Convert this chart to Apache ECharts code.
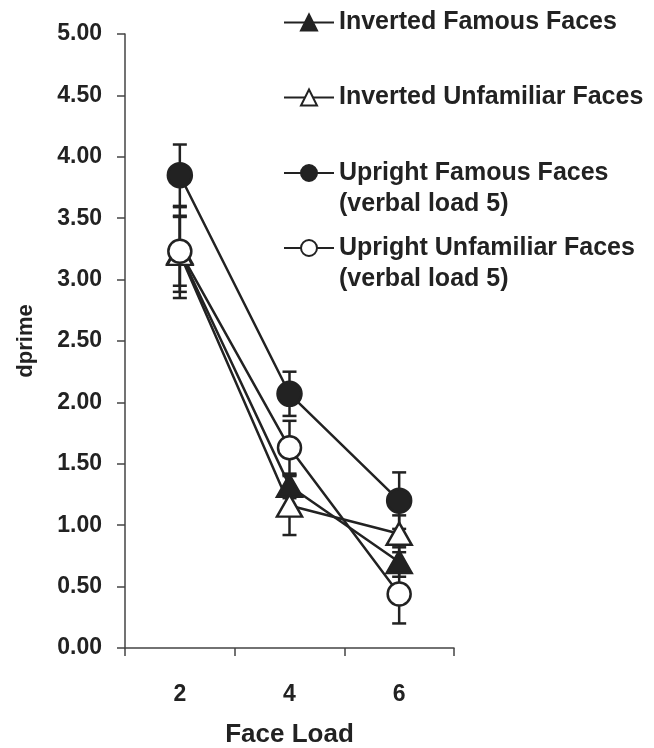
<!DOCTYPE html>
<html>
<head>
<meta charset="utf-8">
<script src="https://cdn.jsdelivr.net/npm/echarts@6/dist/echarts.min.js"></script>
<style>
  html, body { margin: 0; padding: 0; background: #fff; }
  #faceChart { width: 654px; height: 748px; }
</style>
</head>
<body>
<div id="faceChart"></div>
<script>
// face load categories
var loads = ['2', '4', '6']
var yTicks = [0, 0.5, 1, 1.5, 2, 2.5, 3, 3.5, 4, 4.5, 5]

// mean dprime and standard error per face load
var invFamous = [3.22, 1.32, 0.70]
var invFamousErr = [0.37, 0.10, 0.12]
var invUnfamiliar = [3.21, 1.16, 0.93]
var invUnfamiliarErr = [0.31, 0.24, 0.15]
var upFamous = [3.85, 2.07, 1.20]
var upFamousErr = [0.25, 0.18, 0.23]
var upUnfamiliar = [3.23, 1.63, 0.44]
var upUnfamiliarErr = [0.28, 0.22, 0.24]

var names = [
  'Inverted Famous Faces',
  'Inverted Unfamiliar Faces',
  'Upright Famous Faces\n(verbal load 5)',
  'Upright Unfamiliar Faces\n(verbal load 5)'
]

var ink = '#222'
var font = 'Liberation Sans'

function errData (means, errs) {
  return means.map(function (m, i) {
    return [i, m - errs[i], m + errs[i]]
  })
}

function renderErr (params, api) {
  var top = api.coord([api.value(0), api.value(2)])
  var bot = api.coord([api.value(0), api.value(1)])
  var w = 7
  var st = {stroke: ink, lineWidth: 2.5}
  return {
    type: 'group',
    children: [
      {type: 'line', shape: {x1: top[0], y1: top[1], x2: bot[0], y2: bot[1]}, style: st},
      {type: 'line', shape: {x1: top[0] - w, y1: top[1], x2: top[0] + w, y2: top[1]}, style: st},
      {type: 'line', shape: {x1: bot[0] - w, y1: bot[1], x2: bot[0] + w, y2: bot[1]}, style: st}
    ]
  }
}

function errSeries (means, errs) {
  return {
    type: 'custom',
    renderItem: renderErr,
    encode: {x: 0, y: [1, 2]},
    data: errData(means, errs),
    z: 1,
    silent: true
  }
}

function lineSeries (name, data, symbol, size, filled) {
  return {
    name: name,
    type: 'line',
    data: data,
    symbol: symbol,
    symbolSize: size,
    showAllSymbol: true,
    z: 3,
    lineStyle: {color: ink, width: 2.5},
    itemStyle: {
      color: filled ? ink : '#fff',
      borderColor: ink,
      borderWidth: 2.5
    }
  }
}

function legendAt (name, top, twoLines) {
  return {
    data: [name],
    orient: 'vertical',
    left: 283,
    top: top,
    padding: 0,
    itemWidth: 50,
    itemHeight: 20,
    itemGap: 0,
    // blank first line keeps the icon level with the first text line
    formatter: twoLines ? function (n) { return '\n' + n } : '{name}',
    textStyle: {
      fontFamily: font,
      fontWeight: 'bold',
      fontSize: 25,
      color: ink,
      lineHeight: twoLines ? 31 : 24
    }
  }
}

var chart = echarts.init(document.getElementById('faceChart'))
chart.setOption({
  animation: false,
  backgroundColor: '#fff',
  grid: {
    left: 125,
    top: 34,
    right: 200,
    bottom: 100,
    outerBoundsMode: 'none'
  },
  legend: [
    legendAt(names[0], 10, false),
    legendAt(names[1], 85, false),
    legendAt(names[2], 126.5, true),
    legendAt(names[3], 201.5, true)
  ],
  xAxis: {
    type: 'category',
    data: loads,
    boundaryGap: true,
    name: 'Face Load',
    nameLocation: 'middle',
    nameGap: 74,
    nameTextStyle: {fontFamily: font, fontWeight: 'bold', fontSize: 26, color: ink},
    axisLine: {lineStyle: {color: '#444', width: 1.5}},
    axisTick: {show: true, length: 8, lineStyle: {color: '#444', width: 1.5}},
    axisLabel: {
      margin: 35,
      fontFamily: font,
      fontWeight: 'bold',
      fontSize: 23,
      color: ink
    },
    splitLine: {show: false}
  },
  yAxis: {
    type: 'value',
    min: yTicks[0],
    max: yTicks[yTicks.length - 1],
    interval: 0.5,
    name: 'dprime',
    nameLocation: 'middle',
    nameRotate: 90,
    nameGap: 88,
    nameTextStyle: {fontFamily: font, fontWeight: 'bold', fontSize: 22, color: ink},
    axisLine: {show: true, lineStyle: {color: '#444', width: 1.5}},
    axisTick: {show: true, length: 8, lineStyle: {color: '#444', width: 1.5}},
    axisLabel: {
      margin: 23,
      fontFamily: font,
      fontWeight: 'bold',
      fontSize: 23,
      color: ink,
      formatter: function (v) { return v.toFixed(2) }
    },
    splitLine: {show: false}
  },
  series: [
    errSeries(invFamous, invFamousErr),
    errSeries(invUnfamiliar, invUnfamiliarErr),
    errSeries(upFamous, upFamousErr),
    errSeries(upUnfamiliar, upUnfamiliarErr),
    lineSeries(names[0], invFamous, 'triangle', [25, 22], true),
    lineSeries(names[1], invUnfamiliar, 'triangle', [25, 22], false),
    lineSeries(names[2], upFamous, 'circle', 24, true),
    lineSeries(names[3], upUnfamiliar, 'circle', 23, false)
  ]
})
</script>
</body>
</html>
